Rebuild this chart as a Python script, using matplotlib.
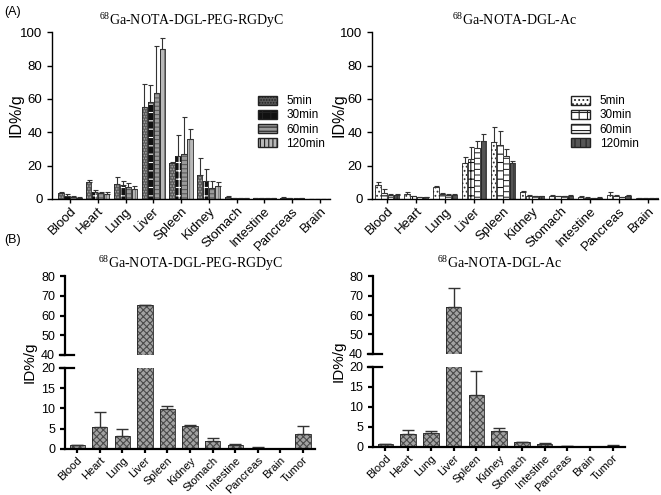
import numpy as np
import matplotlib
matplotlib.use("Agg")
import matplotlib.pyplot as plt
from matplotlib.patches import Patch

plt.rcParams['font.family'] = ['Liberation Sans', 'DejaVu Sans']
plt.rcParams['mathtext.fontset'] = 'custom'
plt.rcParams['mathtext.rm'] = 'Liberation Serif'
plt.rcParams['hatch.linewidth'] = 0.8

# ---------------------------------------------------------------------------
# Data
# ---------------------------------------------------------------------------
organs_a = ["Blood", "Heart", "Lung", "Liver", "Spleen", "Kidney",
            "Stomach", "Intestine", "Pancreas", "Brain"]
organs_b = organs_a + ["Tumor"]
times = ["5min", "30min", "60min", "120min"]

# (A) left: 68Ga-NOTA-DGL-PEG-RGDyC, time series
rgd_5 = [3.5, 10, 9, 55, 21.5, 14.5, 1.2, 0.6, 0.8, 0.1]
rgd_5_err = [0.8, 1.5, 4, 14, 0.5, 10, 0.4, 0.2, 0.2, 0]
rgd_30 = [1.5, 4, 8.5, 58, 26, 11, 0.5, 0.4, 0.3, 0.1]
rgd_30_err = [1.5, 1.5, 2, 10.5, 12.5, 7, 0.2, 0.1, 0.1, 0]
rgd_60 = [1, 3.5, 7, 63.5, 27, 6.5, 0.3, 0.3, 0.2, 0.1]
rgd_60_err = [0.5, 0.5, 2.5, 28.5, 22, 4.5, 0.1, 0.1, 0.1, 0]
rgd_120 = [0.8, 3.2, 6, 90, 36, 7.5, 0.5, 0.5, 0.3, 0.1]
rgd_120_err = [0.3, 0.8, 1.5, 6.5, 6, 2.5, 0.2, 0.1, 0.1, 0]

# (A) right: 68Ga-NOTA-DGL-Ac, time series
ac_5 = [8.5, 3, 7, 21.5, 34, 4, 2, 1.2, 2.5, 0.3]
ac_5_err = [1.5, 1, 1, 3.5, 9, 0.5, 0.5, 0.3, 1.5, 0]
ac_30 = [3.5, 1.5, 3, 24, 32.5, 2, 1.5, 0.8, 2, 0.3]
ac_30_err = [2.5, 0.3, 0.5, 7, 8.5, 0.3, 0.3, 0.2, 0.5, 0]
ac_60 = [2.5, 1.2, 2.5, 30.5, 26, 1.5, 1.5, 0.7, 1, 0.3]
ac_60_err = [0.5, 0.2, 0.5, 4, 4, 0.2, 0.3, 0.1, 0.2, 0]
ac_120 = [2.2, 1.2, 2.5, 35, 21.5, 1.5, 2, 0.8, 2, 0.3]
ac_120_err = [0.8, 0.2, 0.5, 4, 1, 0.2, 0.5, 0.2, 0.5, 0]

# (B) single time point
rgd_b = [1.0, 5.5, 3.3, 65.5, 9.8, 5.7, 1.9, 1.1, 0.3, 0.05, 3.8]
rgd_b_err = [0.1, 3.5, 1.5, 0, 0.7, 0.1, 0.8, 0.1, 0.2, 0, 1.9]
ac_b = [0.7, 3.3, 3.4, 64, 13, 4, 1.2, 0.8, 0.2, 0.05, 0.3]
ac_b_err = [0.1, 1.0, 0.7, 10, 6, 0.8, 0.1, 0.1, 0.1, 0, 0.2]

# ---------------------------------------------------------------------------
# Helpers
# ---------------------------------------------------------------------------
def hatched_bar(ax, x, h, width, face, hatch, hcol):
    ax.bar(x, h, width, color=face, hatch=hatch, edgecolor=hcol, linewidth=0)
    ax.bar(x, h, width, fill=False, edgecolor="#222222", linewidth=0.6)

def style_axis(ax, lw=1.0, size=9.5):
    for s in ["top", "right"]:
        ax.spines[s].set_visible(False)
    for s in ["left", "bottom"]:
        ax.spines[s].set_linewidth(lw)
    ax.tick_params(direction="out", width=lw, length=3.5, labelsize=size)
    ax.tick_params(axis="x", length=3, pad=1.5)

def grouped(ax, means, errs, styles, xlim, leg_anchor):
    x = np.arange(len(organs_a))
    w = 0.19
    for i, (m, e, st) in enumerate(zip(means, errs, styles)):
        xi = x + (i - 1.5) * 0.215
        ax.errorbar(xi, m, yerr=[np.zeros(len(e)), e], fmt="none",
                    ecolor="#333333", elinewidth=0.8, capsize=1.8, capthick=0.8)
        hatched_bar(ax, xi, m, w, st[0], st[1], st[2])
    ax.set_xlim(*xlim)
    ax.set_ylim(0, 100)
    ax.set_yticks([0, 20, 40, 60, 80, 100])
    ax.set_xticks(x)
    ax.set_xticklabels(organs_a, rotation=45, ha="right", rotation_mode="anchor", fontsize=8.5)
    ax.set_ylabel("ID%/g", fontsize=11.5)
    style_axis(ax)
    handles = [Patch(facecolor=st[0], hatch=st[1], edgecolor=st[2]) for st in styles]
    leg = ax.legend(handles, times, loc="upper right", bbox_to_anchor=leg_anchor,
                    frameon=False, fontsize=8.5, handlelength=1.6, handleheight=0.8,
                    labelspacing=0.18, borderaxespad=0)
    for h in leg.legend_handles:
        h.set_edgecolor("#222222")

def broken(fig, rect_top, rect_bot, vals, errs, title, ylab_x):
    ax_t = fig.add_axes(rect_top)
    ax_b = fig.add_axes(rect_bot)
    x = np.arange(len(organs_b))
    for ax in (ax_t, ax_b):
        ax.errorbar(x, vals, yerr=[np.zeros(len(errs)), errs], fmt="none",
                    ecolor="#333333", elinewidth=1.0, capsize=4, capthick=1.0)
        hatched_bar(ax, x, vals, 0.68, "#a2a2a2", "xxxxx", "#4a4a4a")
        ax.set_xlim(-0.55, 10.55)
        style_axis(ax, lw=1.6, size=9)
    ax_t.set_ylim(40, 80)
    ax_t.set_yticks([40, 50, 60, 70, 80])
    ax_t.spines["bottom"].set_visible(False)
    ax_t.tick_params(axis="x", bottom=False, labelbottom=False)
    ax_b.set_ylim(0, 20)
    ax_b.set_yticks([0, 5, 10, 15, 20])
    ax_b.set_xticks(x)
    ax_b.set_xticklabels(organs_b, rotation=45, ha="right", rotation_mode="anchor", fontsize=8)
    # break marks
    ax_t.plot([-0.02, 0.035], [0, 0], transform=ax_t.transAxes, color="black",
              lw=1.6, clip_on=False)
    ax_b.plot([-0.02, 0.035], [1, 1], transform=ax_b.transAxes, color="black",
              lw=1.6, clip_on=False)
    ax_t.set_title(title, fontsize=10, family="Liberation Serif", pad=6)
    fig.text(ylab_x, (rect_bot[1] + rect_top[1] + rect_top[3]) / 2,
             "ID%/g", rotation=90, va="center", ha="center", fontsize=11)
    return ax_t, ax_b

# ---------------------------------------------------------------------------
# Figure
# ---------------------------------------------------------------------------
fig = plt.figure(figsize=(6.61, 4.95), dpi=100)

title_rgd = r"$\mathrm{^{68}}$Ga-NOTA-DGL-PEG-RGDyC"
title_ac = r"$\mathrm{^{68}}$Ga-NOTA-DGL-Ac"

styles_left = [("#5a5a5a", "......", "#aaaaaa"),
               ("#111111", "++", "white"),
               ("#9a9a9a", "----", "#5a5a5a"),
               ("#b8b8b8", "||||", "#7a7a7a")]
styles_right = [("white", "....", "#333333"),
                ("white", "++", "#111111"),
                ("white", "---", "#333333"),
                ("#555555", "|||", "#333333")]

ax1 = fig.add_axes([0.079, 0.598, 0.42, 0.337])
grouped(ax1, [rgd_5, rgd_30, rgd_60, rgd_120],
        [rgd_5_err, rgd_30_err, rgd_60_err, rgd_120_err], styles_left,
        (-0.64, 9.36), (1.0, 0.65))
ax1.set_title(title_rgd, fontsize=10, family="Liberation Serif", pad=5)
ax1.yaxis.set_label_coords(-0.105, 0.5)

ax2 = fig.add_axes([0.563, 0.598, 0.432, 0.337])
grouped(ax2, [ac_5, ac_30, ac_60, ac_120],
        [ac_5_err, ac_30_err, ac_60_err, ac_120_err], styles_right,
        (-0.52, 9.34), (0.95, 0.65))
ax2.set_title(title_ac, fontsize=10, family="Liberation Serif", pad=5)
ax2.yaxis.set_label_coords(-0.09, 0.5)

broken(fig, [0.098, 0.283, 0.379, 0.159], [0.098, 0.093, 0.379, 0.164],
       rgd_b, rgd_b_err, title_rgd, 0.045)
broken(fig, [0.564, 0.285, 0.382, 0.157], [0.564, 0.097, 0.382, 0.162],
       ac_b, ac_b_err, title_ac, 0.513)

fig.text(0.006, 0.975, "(A)", fontsize=9, va="center")
fig.text(0.006, 0.515, "(B)", fontsize=9, va="center")

fig.savefig("out.png", dpi=100)
